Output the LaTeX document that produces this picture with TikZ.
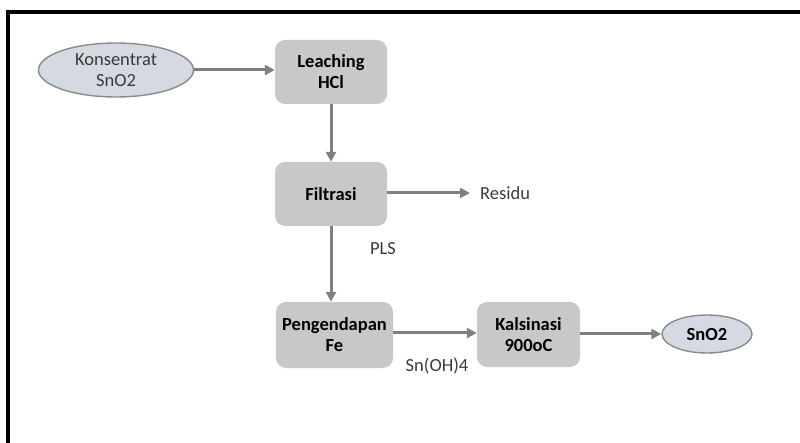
\documentclass[tikz,border=0pt]{standalone}
\usepackage{fontspec}
\setmainfont{Carlito}
\usetikzlibrary{arrows.meta,shapes.geometric}
\definecolor{boxgray}{HTML}{C8C8C8}
\definecolor{ellfill}{HTML}{D5D9E1}
\definecolor{ellline}{HTML}{8A8A8A}
\definecolor{arrgray}{HTML}{808080}
\definecolor{txtgray}{HTML}{3A3A3A}
\tikzset{
  procbox/.style={draw=none, fill=boxgray, rounded corners=10pt, align=center,
    font=\fontsize{18.5}{21}\selectfont\bfseries, text=black, inner sep=0pt},
  ellnode/.style={ellipse, draw=ellline, line width=1.4pt, fill=ellfill, align=center,
    font=\fontsize{18.5}{21}\selectfont, text=txtgray, inner sep=0pt},
  lbl/.style={font=\fontsize{18.5}{21}\selectfont, text=txtgray, inner sep=0pt},
  flow/.style={draw=arrgray, line width=3pt, -{Triangle[length=10pt,width=10pt]}}
}
\begin{document}
\begin{tikzpicture}[x=1pt,y=-1pt]
\useasboundingbox (0,0) rectangle (800,443);
\begin{scope}
\clip (0,0) rectangle (800,443);
\draw[line width=4pt, black] (8.3,11.7) rectangle (840,480);
\end{scope}
\node[ellnode, minimum width=155pt, minimum height=54pt] (kons) at (116,70) {Konsentrat\\SnO2};
\node[procbox, minimum width=112pt, minimum height=64pt] (leach) at (331,72) {Leaching\\HCl};
\node[procbox, minimum width=112pt, minimum height=64pt] (filt) at (331,194) {Filtrasi};
\node[lbl, anchor=west] (res) at (480,193) {Residu};
\coordinate (resend) at (470,193);
\node[lbl] (pls) at (383,249) {PLS};
\node[procbox, minimum width=117pt, minimum height=66pt] (peng) at (334.5,335) {Pengendapan\\Fe};
\node[procbox, minimum width=103pt, minimum height=65pt] (kals) at (528.5,334.5) {Kalsinasi\\900oC};
\node[lbl] (snoh) at (437,366) {Sn(OH)4};
\node[ellnode, minimum width=90pt, minimum height=38pt, font=\fontsize{18.5}{21}\selectfont\bfseries, text=black] (sno2) at (707,334) {SnO2};
\draw[flow] (kons.east) -- (leach.west |- kons.east);
\draw[flow] (leach.south) -- (filt.north);
\draw[flow] (filt.east |- res.west) -- (resend);
\draw[flow] (filt.south) -- (filt.south |- peng.north);
\draw[flow] (peng.east |- 0,333) -- (kals.west |- 0,333);
\draw[flow] (kals.east |- sno2.west) -- (sno2.west);
\end{tikzpicture}
\end{document}
